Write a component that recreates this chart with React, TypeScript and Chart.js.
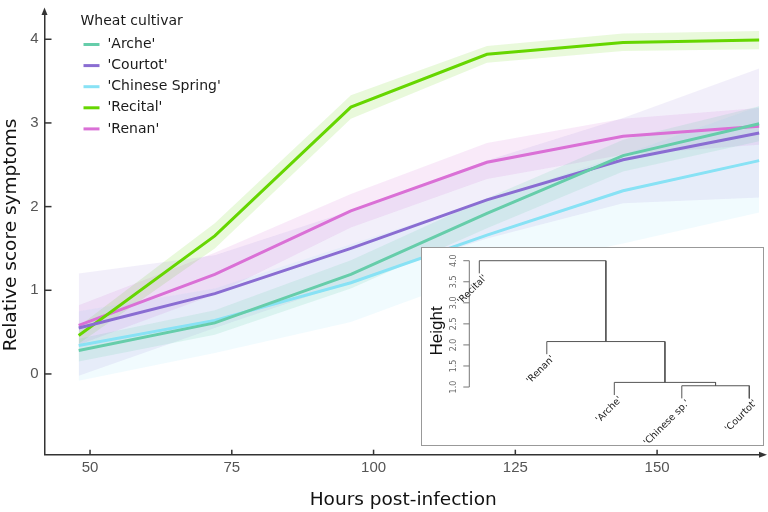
import React, { useEffect, useRef } from "react";
import { Chart, registerables } from "chart.js";

Chart.register(...registerables);

// ---------- main chart data ----------
const hours = [48, 72, 96, 120, 144, 168];
const cultivars = ["'Arche'", "'Courtot'", "'Chinese Spring'", "'Recital'", "'Renan'"];

const archeMean = [0.28, 0.61, 1.19, 1.92, 2.61, 2.99];
const archeLow = [0.15, 0.47, 1.02, 1.74, 2.42, 2.78];
const archeHigh = [0.42, 0.76, 1.36, 2.1, 2.8, 3.2];

const courtotMean = [0.55, 0.96, 1.5, 2.08, 2.56, 2.88];
const courtotLow = [-0.02, 0.55, 1.1, 1.62, 2.04, 2.11];
const courtotHigh = [1.2, 1.42, 1.95, 2.55, 3.06, 3.65];

const chineseMean = [0.34, 0.64, 1.09, 1.66, 2.19, 2.55];
const chineseLow = [-0.08, 0.25, 0.62, 1.22, 1.56, 1.93];
const chineseHigh = [0.75, 1.02, 1.55, 2.08, 2.62, 3.2];

const recitalMean = [0.46, 1.65, 3.19, 3.82, 3.96, 3.99];
const recitalLow = [0.36, 1.5, 3.05, 3.72, 3.86, 3.88];
const recitalHigh = [0.57, 1.8, 3.33, 3.92, 4.07, 4.1];

const renanMean = [0.58, 1.19, 1.95, 2.53, 2.84, 2.96];
const renanLow = [0.35, 0.95, 1.75, 2.33, 2.62, 2.74];
const renanHigh = [0.82, 1.45, 2.15, 2.76, 3.05, 3.18];

const xTickValues = [50, 75, 100, 125, 150];
const yTickValues = [0, 1, 2, 3, 4];

const legendTitle = "Wheat cultivar";
const xTitle = "Hours post-infection";
const yTitle = "Relative score symptoms";

// ---------- dendrogram data (hclust-style merges: negative = leaf, positive = earlier merge) ----------
const leafLabels = ["'Recital'", "'Renan'", "'Arche'", "'Chinese sp.'", "'Courtot'"];
const mergeLeft = [-4, -3, -2, -1];
const mergeRight = [-5, 1, 2, 3];
const mergeHeight = [1.03, 1.11, 2.08, 4.0];
const leafHang = 0.3;
const dendroTicks = [1.0, 1.5, 2.0, 2.5, 3.0, 3.5, 4.0];
const dendroYTitle = "Height";

// ---------- styles ----------
const seriesColors = ["#66cdaa", "#8a6dd2", "#88e2f5", "#66d600", "#da70d6"];
const bandAlpha = [0.16, 0.11, 0.12, 0.14, 0.15];

function rgba(hex: string, a: number) {
  const n = parseInt(hex.slice(1), 16);
  return `rgba(${(n >> 16) & 255},${(n >> 8) & 255},${n & 255},${a})`;
}

const means = [archeMean, courtotMean, chineseMean, recitalMean, renanMean];
const lows = [archeLow, courtotLow, chineseLow, recitalLow, renanLow];
const highs = [archeHigh, courtotHigh, chineseHigh, recitalHigh, renanHigh];

const mainDecor = {
  id: "mainDecor",
  afterDraw(chart: any) {
    const { ctx, chartArea: a } = chart;
    const xs = chart.scales.x;
    const ys = chart.scales.y;
    ctx.save();
    ctx.strokeStyle = "#333";
    ctx.fillStyle = "#333";
    ctx.lineWidth = 1.5;
    // inward ticks
    xs.ticks.forEach((t: any) => {
      const px = xs.getPixelForValue(t.value);
      ctx.beginPath();
      ctx.moveTo(px, a.bottom);
      ctx.lineTo(px, a.bottom - 5);
      ctx.stroke();
    });
    ys.ticks.forEach((t: any) => {
      const py = ys.getPixelForValue(t.value);
      ctx.beginPath();
      ctx.moveTo(a.left, py);
      ctx.lineTo(a.left + 7, py);
      ctx.stroke();
    });
    // arrows
    ctx.beginPath();
    ctx.moveTo(a.right, a.bottom);
    ctx.lineTo(a.right + 1, a.bottom);
    ctx.stroke();
    ctx.beginPath();
    ctx.moveTo(a.right + 5, a.bottom);
    ctx.lineTo(a.right - 3, a.bottom - 3);
    ctx.lineTo(a.right - 3, a.bottom + 3);
    ctx.closePath();
    ctx.fill();
    ctx.beginPath();
    ctx.moveTo(a.left, a.top - 7.5);
    ctx.lineTo(a.left - 3, a.top);
    ctx.lineTo(a.left + 3, a.top);
    ctx.closePath();
    ctx.fill();

    // legend
    const lx = a.left + 36;
    ctx.fillStyle = "#1a1a1a";
    ctx.font = '14px "DejaVu Sans"';
    ctx.textAlign = "left";
    ctx.textBaseline = "middle";
    ctx.fillText(legendTitle, lx, 21);
    cultivars.forEach((name, k) => {
      const cy = 44.5 + k * 21.1;
      ctx.strokeStyle = seriesColors[k];
      ctx.lineWidth = 3;
      ctx.beginPath();
      ctx.moveTo(lx + 3, cy);
      ctx.lineTo(lx + 19, cy);
      ctx.stroke();
      ctx.fillStyle = "#1a1a1a";
      ctx.fillText(name, lx + 27, cy);
    });
    ctx.restore();
  },
};

function buildDendroSegments() {
  const nodeX: number[] = [];
  const nodeH: number[] = [];
  const segs: { x: number; y: number }[][] = [];
  const childPos = (id: number, parentH: number) => {
    if (id < 0) return { x: -id, y: parentH - leafHang };
    return { x: nodeX[id - 1], y: nodeH[id - 1] };
  };
  mergeHeight.forEach((h, i) => {
    const l = childPos(mergeLeft[i], h);
    const r = childPos(mergeRight[i], h);
    segs.push([
      { x: l.x, y: l.y },
      { x: l.x, y: h },
      { x: r.x, y: h },
      { x: r.x, y: r.y },
    ]);
    nodeX.push((l.x + r.x) / 2);
    nodeH.push(h);
  });
  return segs;
}

function leafBottom(leaf: number) {
  for (let i = 0; i < mergeHeight.length; i++) {
    if (mergeLeft[i] === -leaf || mergeRight[i] === -leaf) return mergeHeight[i] - leafHang;
  }
  return 0;
}

const dendroDecor = {
  id: "dendroDecor",
  afterDraw(chart: any) {
    const { ctx } = chart;
    const xs = chart.scales.x;
    const ys = chart.scales.y;
    const axisX = xs.getPixelForValue(1) - 10;
    const yLo = ys.getPixelForValue(dendroTicks[0]);
    const yHi = ys.getPixelForValue(dendroTicks[dendroTicks.length - 1]);
    ctx.save();
    ctx.strokeStyle = "#777";
    ctx.lineWidth = 1;
    ctx.beginPath();
    ctx.moveTo(axisX, yLo);
    ctx.lineTo(axisX, yHi);
    ctx.stroke();
    ctx.fillStyle = "#666";
    ctx.font = '8px "DejaVu Sans"';
    ctx.textAlign = "center";
    ctx.textBaseline = "middle";
    dendroTicks.forEach((t) => {
      const py = ys.getPixelForValue(t);
      ctx.beginPath();
      ctx.moveTo(axisX, py);
      ctx.lineTo(axisX - 6, py);
      ctx.stroke();
      ctx.save();
      ctx.translate(axisX - 15, py);
      ctx.rotate(-Math.PI / 2);
      ctx.fillText(t.toFixed(1), 0, 0);
      ctx.restore();
    });
    ctx.fillStyle = "#111";
    ctx.font = '17px "Liberation Sans"';
    ctx.save();
    ctx.translate(axisX - 32, ys.getPixelForValue(2.5) + 7);
    ctx.rotate(-Math.PI / 2);
    ctx.fillText(dendroYTitle, 0, 0);
    ctx.restore();

    ctx.font = '9.5px "DejaVu Sans"';
    ctx.fillStyle = "#222";
    ctx.textAlign = "right";
    ctx.textBaseline = "alphabetic";
    leafLabels.forEach((lab, i) => {
      const px = xs.getPixelForValue(i + 1) + 8;
      const py = ys.getPixelForValue(leafBottom(i + 1)) + 5;
      ctx.save();
      ctx.translate(px, py);
      ctx.rotate(-Math.PI / 4);
      ctx.fillText(lab, 0, 0);
      ctx.restore();
    });
    ctx.restore();
  },
};

function Dendrogram() {
  const ref = useRef<HTMLCanvasElement>(null);
  useEffect(() => {
    if (!ref.current) return;
    const segs = buildDendroSegments();
    const chart = new Chart(ref.current, {
      type: "line",
      data: {
        datasets: segs.map((s) => ({
          data: s,
          borderColor: "#555",
          borderWidth: 1,
          pointRadius: 0,
          fill: false,
          tension: 0,
        })),
      },
      options: {
        animation: false,
        responsive: false,
        events: [],
        layout: { padding: 0 },
        scales: {
          x: { type: "linear", min: 0.151, max: 5.203, display: false },
          y: { type: "linear", min: -0.377, max: 4.302, display: false },
        },
        plugins: { legend: { display: false }, tooltip: { enabled: false } },
      } as any,
      plugins: [dendroDecor],
    });
    return () => chart.destroy();
  }, []);
  return <canvas ref={ref} width={341} height={197} style={{ display: "block" }} />;
}

export default function App() {
  const ref = useRef<HTMLCanvasElement>(null);
  useEffect(() => {
    if (!ref.current) return;
    const datasets: any[] = [];
    cultivars.forEach((name, k) => {
      datasets.push({
        label: name,
        data: hours.map((h, i) => ({ x: h, y: means[k][i] })),
        borderColor: seriesColors[k],
        borderWidth: 3,
        pointRadius: 0,
        tension: 0,
        fill: false,
        order: 0,
      });
    });
    cultivars.forEach((name, k) => {
      const lowIndex = datasets.length;
      datasets.push({
        label: name + " low",
        data: hours.map((h, i) => ({ x: h, y: lows[k][i] })),
        borderColor: "rgba(0,0,0,0)",
        borderWidth: 0,
        pointRadius: 0,
        tension: 0,
        fill: false,
        order: 1,
      });
      datasets.push({
        label: name + " high",
        data: hours.map((h, i) => ({ x: h, y: highs[k][i] })),
        borderColor: "rgba(0,0,0,0)",
        borderWidth: 0,
        pointRadius: 0,
        tension: 0,
        fill: lowIndex,
        backgroundColor: rgba(seriesColors[k], bandAlpha[k]),
        order: 1,
      });
    });

    const chart = new Chart(ref.current, {
      type: "line",
      data: { datasets },
      options: {
        animation: false,
        responsive: false,
        events: [],
        layout: { padding: { top: 8, right: 6, left: 0, bottom: 0 } },
        scales: {
          x: {
            type: "linear",
            min: 41.97,
            max: 168.5,
            afterFit: (s: any) => {
              s.height = 57.3;
            },
            afterBuildTicks: (s: any) => {
              s.ticks = xTickValues.map((v) => ({ value: v }));
            },
            grid: { display: false, drawTicks: false },
            border: { display: true, color: "#333", width: 1.5 },
            ticks: {
              padding: 4,
              color: "#555",
              font: { family: "Liberation Sans", size: 15 },
              maxRotation: 0,
              autoSkip: false,
            },
            title: {
              display: true,
              text: xTitle,
              color: "#111",
              font: { family: "DejaVu Sans", size: 18.5 },
              padding: { top: 0, bottom: 1 },
            },
          },
          y: {
            type: "linear",
            min: -0.965,
            max: 4.29,
            afterFit: (s: any) => {
              s.width = 44.5;
            },
            afterBuildTicks: (s: any) => {
              s.ticks = yTickValues.map((v) => ({ value: v }));
            },
            grid: { display: false, drawTicks: false },
            border: { display: true, color: "#333", width: 1.5 },
            ticks: {
              padding: 6,
              color: "#555",
              font: { family: "Liberation Sans", size: 15 },
            },
            title: {
              display: true,
              text: yTitle,
              color: "#111",
              font: { family: "DejaVu Sans", size: 18.5 },
              padding: { top: 0, bottom: 0 },
            },
          },
        },
        plugins: {
          legend: { display: false },
          tooltip: { enabled: false },
        },
      } as any,
      plugins: [mainDecor],
    });
    return () => chart.destroy();
  }, []);

  return (
    <div
      style={{
        position: "fixed",
        left: 0,
        top: 0,
        width: 768,
        height: 512,
        background: "#fff",
        overflow: "hidden",
      }}
    >
      <canvas ref={ref} width={768} height={512} style={{ display: "block" }} />
      <div
        style={{
          position: "absolute",
          left: 421,
          top: 247,
          width: 343,
          height: 199,
          boxSizing: "border-box",
          border: "1px solid #999",
          background: "#fff",
        }}
      >
        <Dendrogram />
      </div>
    </div>
  );
}
